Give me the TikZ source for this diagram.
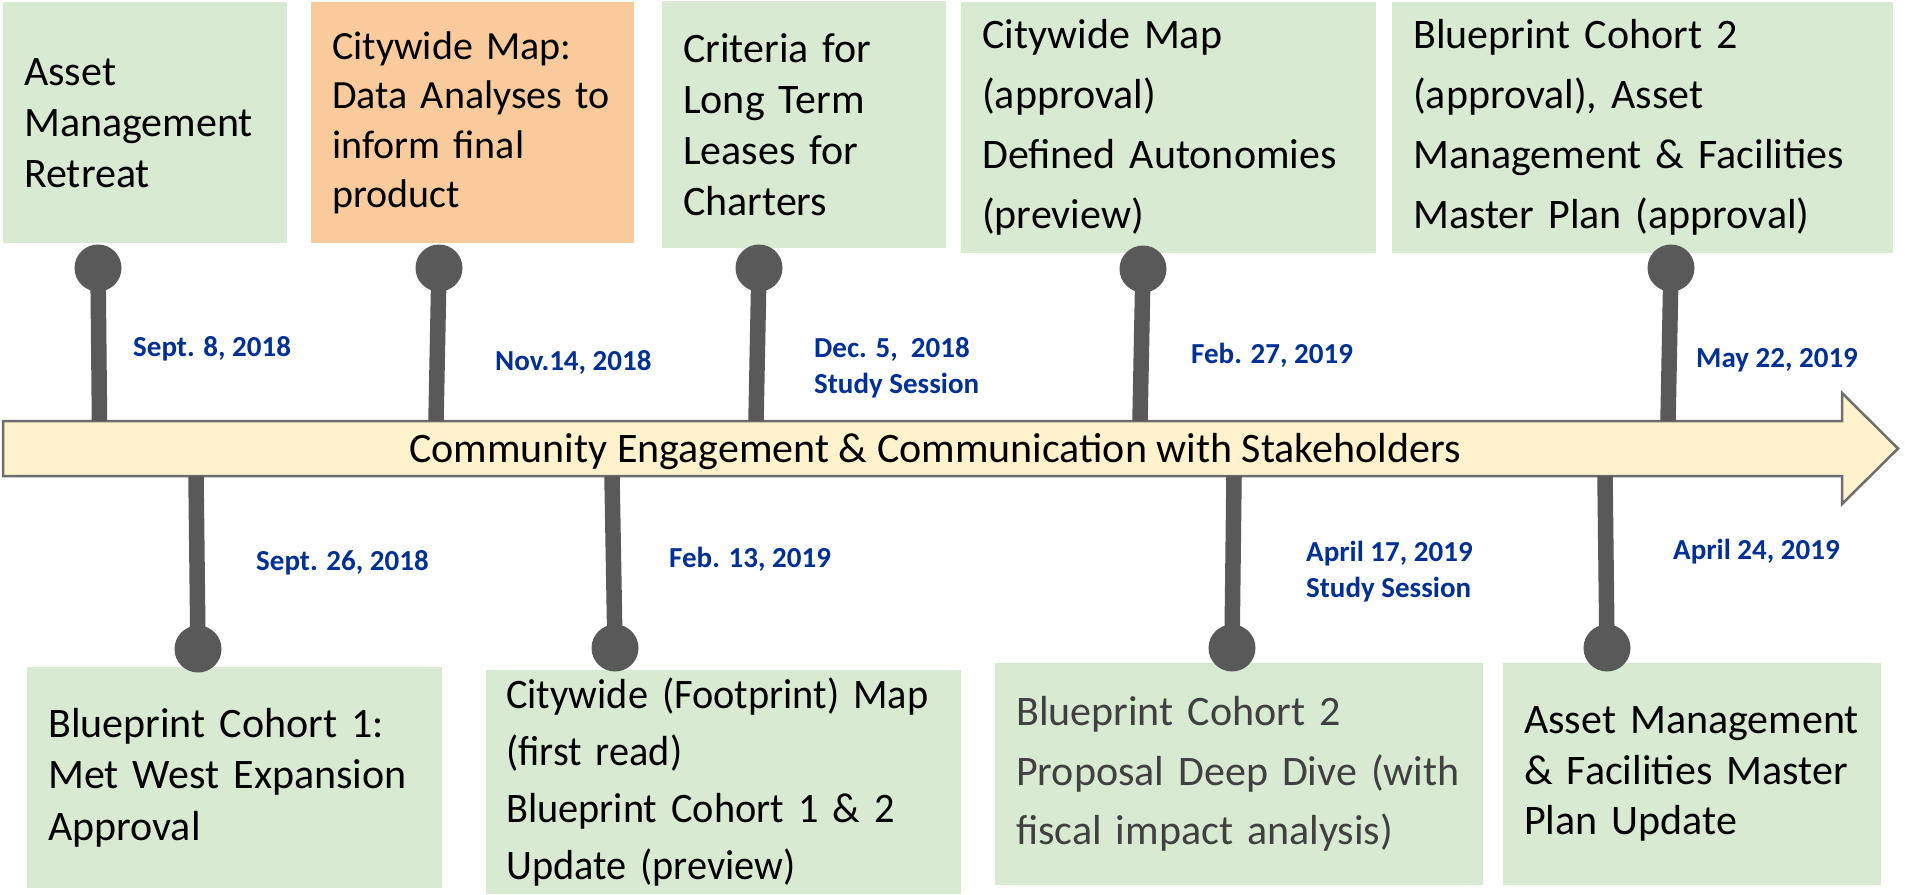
\documentclass[tikz,border=0pt]{standalone}
\usepackage{fontspec}
\setmainfont{Carlito}
\definecolor{boxgreen}{RGB}{217, 234, 211}
\definecolor{boxorange}{RGB}{249, 203, 156}
\definecolor{bandyellow}{RGB}{255, 242, 204}
\definecolor{bandline}{RGB}{110, 110, 110}
\definecolor{tackgray}{RGB}{89, 89, 89}
\definecolor{dateblue}{RGB}{0, 48, 150}
\definecolor{softblack}{RGB}{64, 64, 64}
\usepackage{tikz}

\begin{document}
\begin{tikzpicture}[
  x=1pt, y=-1pt,
  mbox/.style={fill=boxgreen, anchor=north west, align=left, inner xsep=21pt, inner ysep=0pt, font=\fontsize{42}{#1}\selectfont},
  tack/.style={circle, fill=tackgray, minimum size=47pt, inner sep=0pt},
  stem/.style={draw=tackgray, line width=15.5pt},
  datelbl/.style={dateblue, anchor=base west, inner sep=0pt, align=left, font=\fontsize{29}{36}\selectfont\bfseries}
]
  \useasboundingbox (0,0) rectangle (1905,894);

  % Timeline band
  \draw[fill=bandyellow, draw=bandline, line width=2.5pt] (3,421) -- (1842,421) -- (1842,393) -- (1898,448.5) -- (1842,504) -- (1842,476) -- (3,476) -- cycle;
  \node[font=\fontsize{42}{51}\selectfont, anchor=base, inner sep=0pt] (band) at (935,462) {Community Engagement \& Communication with Stakeholders};

  % Upper milestones
  \node[mbox=51, text width=242pt, minimum height=241pt] (retreat) at (3,2) {Asset\\Management\\Retreat};
  \node[mbox=48.5, fill=boxorange, font=\fontsize{40}{49.5}\selectfont, text width=281pt, minimum height=241pt] (mapdata) at (311,2) {Citywide Map:\\Data Analyses to\\inform final\\product};
  \node[mbox=51, text width=242pt, minimum height=247pt] (leases) at (662,1) {Criteria for\\Long Term\\Leases for\\Charters};
  \node[mbox=60, text width=373pt, minimum height=251pt] (mapok) at (961,2) {Citywide Map\\(approval)\\Defined Autonomies\\(preview)};
  \node[mbox=60, text width=459pt, minimum height=251pt] (cohorttwook) at (1392,2) {Blueprint Cohort 2\\(approval), Asset\\Management \& Facilities\\Master Plan (approval)};

  \node[tack] (k1) at (98,268) {};
  \node[tack] (k2) at (439,268) {};
  \node[tack] (k3) at (759,268) {};
  \node[tack] (k4) at (1143,269) {};
  \node[tack] (k5) at (1671,268) {};
  \coordinate (a1) at (99.5,421);
  \coordinate (a2) at (436,421);
  \coordinate (a3) at (756,421);
  \coordinate (a4) at (1140,421);
  \coordinate (a5) at (1668,421);
  \draw[stem] (k1.center) -- (a1);
  \draw[stem] (k2.center) -- (a2);
  \draw[stem] (k3.center) -- (a3);
  \draw[stem] (k4.center) -- (a4);
  \draw[stem] (k5.center) -- (a5);

  \node[datelbl] (d1) at (133,356) {Sept. 8, 2018};
  \node[datelbl] (d2) at (495,370) {Nov.14, 2018};
  \node[datelbl] (d3) at (814,393) {Dec. 5,\ \ 2018\\Study Session};
  \node[datelbl] (d4) at (1191,363) {Feb. 27, 2019};
  \node[datelbl] (d5) at (1696,367) {May 22, 2019};

  % Lower milestones
  \node[mbox=51.5, text width=373pt, minimum height=221pt] (cohortone) at (27,667) {Blueprint Cohort 1:\\Met West Expansion\\Approval};
  \node[mbox=57, inner xsep=20pt, font=\fontsize{42}{57}\selectfont\addfontfeature{FakeStretch=0.96}, text width=435pt, minimum height=224pt] (footprint) at (486,670) {\mbox{Citywide (Footprint) Map}\\(first read)\\Blueprint Cohort 1 \& 2\\Update (preview)};
  \node[mbox=59.5, text=softblack, text width=446pt, minimum height=222pt] (deepdive) at (995,663) {Blueprint Cohort 2\\Proposal Deep Dive (with\\fiscal impact analysis)};
  \node[mbox=50.5, text width=336pt, minimum height=222pt] (masterplan) at (1503,663) {Asset Management\\\& Facilities Master\\Plan Update};

  \node[tack] (k6) at (198,649) {};
  \node[tack] (k7) at (615,648) {};
  \node[tack] (k8) at (1232,648) {};
  \node[tack] (k9) at (1607,648) {};
  \coordinate (a6) at (196,476);
  \coordinate (a7) at (612,476);
  \coordinate (a8) at (1234,476);
  \coordinate (a9) at (1605,476);
  \draw[stem] (k6.center) -- (a6);
  \draw[stem] (k7.center) -- (a7);
  \draw[stem] (k8.center) -- (a8);
  \draw[stem] (k9.center) -- (a9);

  \node[datelbl] (d6) at (256,570) {Sept. 26, 2018};
  \node[datelbl] (d7) at (669,567) {Feb. 13, 2019};
  \node[datelbl] (d8) at (1306,597) {April 17, 2019\\Study Session};
  \node[datelbl] (d9) at (1673,559) {April 24, 2019};
\end{tikzpicture}
\end{document}
